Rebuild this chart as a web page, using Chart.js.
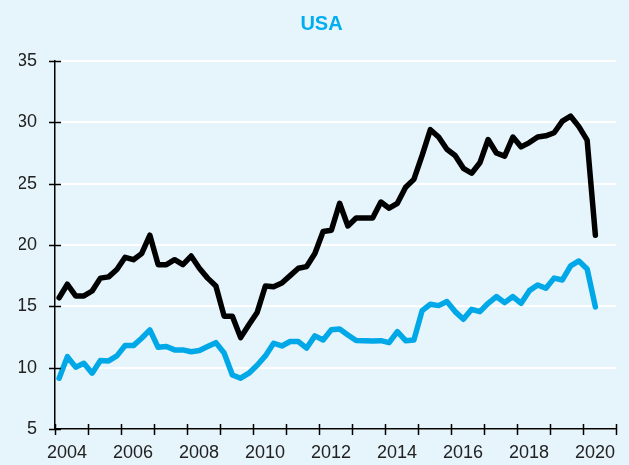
<!DOCTYPE html>
<html>
<head>
<meta charset="utf-8">
<script src="https://cdn.jsdelivr.net/npm/chart.js@4/dist/chart.umd.min.js"></script>
<style>
  html, body { margin:0; padding:0; background:#e6f4fb; }
  #wrap { width:629px; height:465px; }
</style>
</head>
<body>
<div id="wrap"><canvas id="chart" width="629" height="465"></canvas></div>
<script>
// data kuartalan, mulai 2004 Q1 sampai 2020 Q2
const START_YEAR = 2004;
const HITAM = [15.7, 16.8, 15.85, 15.85, 16.25, 17.3, 17.4, 18.0, 19.0, 18.8,
  19.3, 20.8, 18.4, 18.4, 18.8, 18.4, 19.1, 18.1, 17.3, 16.66,
  14.2, 14.2, 12.45, 13.5, 14.5, 16.66, 16.6, 16.9, 17.5, 18.1,
  18.24, 19.3, 21.1, 21.2, 23.4, 21.55, 22.2, 22.2, 22.2, 23.5,
  23.0, 23.4, 24.7, 25.35, 27.3, 29.4, 28.8, 27.8, 27.3, 26.25,
  25.85, 26.7, 28.6, 27.5, 27.25, 28.8, 28.0, 28.35, 28.8, 28.9,
  29.15, 30.1, 30.5, 29.65, 28.55, 20.8];
const BIRU = [9.14, 10.9, 10.04, 10.36, 9.55, 10.58, 10.55, 10.96, 11.8, 11.8,
  12.4, 13.08, 11.66, 11.72, 11.45, 11.45, 11.3, 11.4, 11.72, 12.04,
  11.2, 9.4, 9.14, 9.55, 10.2, 10.96, 11.99, 11.77, 12.13, 12.13,
  11.6, 12.59, 12.26, 13.1, 13.15, 12.67, 12.22, 12.2, 12.18, 12.2,
  12.04, 12.94, 12.2, 12.26, 14.65, 15.17, 15.06, 15.39, 14.57, 13.95,
  14.76, 14.57, 15.25, 15.8, 15.3, 15.8, 15.25, 16.28, 16.74, 16.47,
  17.3, 17.15, 18.3, 18.7, 18.05, 14.95];
const LABEL_TAHUN = [2004, 2006, 2008, 2010, 2012, 2014, 2016, 2018, 2020];
const Y_TICKS = [5, 10, 15, 20, 25, 30, 35];

// titik di tengah kuartal
function keTitik(arr) {
  return arr.map((v, i) => ({ x: START_YEAR + (i + 0.5) / 4, y: v }));
}

// tick kecil yang memotong garis sumbu
const crossTicks = {
  id: 'crossTicks',
  afterDraw(chart) {
    let ctx = chart.ctx;
    let xs = chart.scales.x, ys = chart.scales.y;
    ctx.save();
    ctx.strokeStyle = '#000';
    ctx.lineWidth = 1.5;
    ctx.beginPath();
    for (let t = xs.min; t <= xs.max; t++) {
      let px = Math.round(xs.getPixelForValue(t)) + 0.5;
      ctx.moveTo(px, ys.bottom - 5);
      ctx.lineTo(px, ys.bottom + 6);
    }
    Y_TICKS.forEach(v => {
      let py = Math.round(ys.getPixelForValue(v)) + 0.5;
      ctx.moveTo(xs.left - 6, py);
      ctx.lineTo(xs.left + 6, py);
    });
    ctx.stroke();
    ctx.restore();
  }
};

const font = 'Liberation Sans';

new Chart(document.getElementById('chart'), {
  type: 'line',
  data: {
    datasets: [
      { data: keTitik(HITAM), borderColor: '#000', borderWidth: 5.5, pointRadius: 0, tension: 0,
        borderJoinStyle: 'round', borderCapStyle: 'round' },
      { data: keTitik(BIRU), borderColor: '#00a8e8', borderWidth: 5.5, pointRadius: 0, tension: 0,
        borderJoinStyle: 'round', borderCapStyle: 'round' }
    ]
  },
  options: {
    responsive: false,
    animation: false,
    layout: { padding: { left: 19, right: 5, top: 0, bottom: 0 } },
    plugins: {
      legend: { display: false },
      tooltip: { enabled: false },
      title: {
        display: true, text: 'USA', color: '#00aeef',
        font: { family: font, size: 20, weight: 'bold' },
        padding: { top: 12, bottom: 25 }
      }
    },
    scales: {
      x: {
        type: 'linear', min: 2004, max: 2021,
        grid: { display: false, drawTicks: false },
        border: { display: true, color: '#000', width: 1.5 },
        ticks: {
          stepSize: 1, autoSkip: false, maxRotation: 0, labelOffset: 12, padding: 13,
          color: '#222', font: { family: font, size: 18 },
          callback: v => LABEL_TAHUN.includes(v) ? String(v) : ''
        },
        afterFit: s => { s.height = 36; }
      },
      y: {
        min: 5, max: 35,
        grid: { color: '#ffffff', lineWidth: 2, drawTicks: false },
        border: { display: true, color: '#000', width: 1.5 },
        ticks: {
          stepSize: 5, padding: 18, color: '#222', font: { family: font, size: 18 }
        },
        afterFit: s => { s.width = 36; }
      }
    }
  },
  plugins: [crossTicks]
});
</script>
</body>
</html>
